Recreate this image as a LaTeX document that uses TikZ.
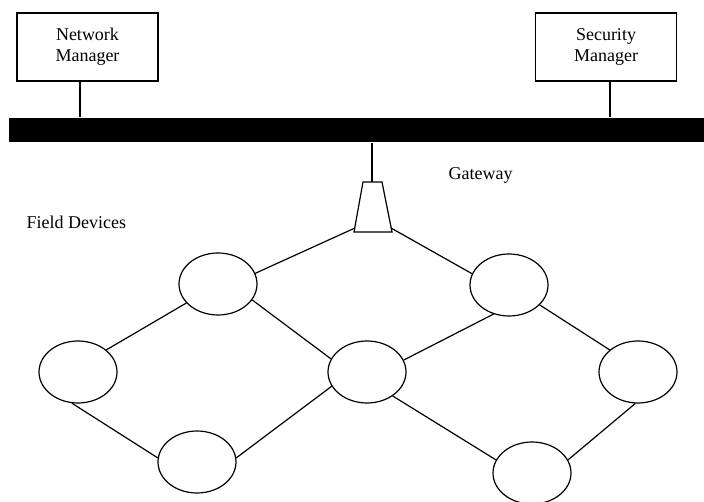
\documentclass[tikz,border=0pt]{standalone}
\usepackage{fontspec}
\setmainfont{Liberation Serif}
\usetikzlibrary{shapes.geometric}
\begin{document}
\begin{tikzpicture}[x=1pt,y=-1pt,
  line width=1.2pt,
  txt/.style={font=\fontsize{18}{21}\selectfont},
  mgr/.style={draw,rectangle,align=center,minimum width=141pt,minimum height=68pt,inner sep=0pt,txt},
  dev/.style={draw,ellipse,minimum width=78pt,minimum height=62pt,inner sep=0pt}]
\useasboundingbox (0,0) rectangle (704,502);
% managers and bus
\node[mgr] (nm) at (87.5,47) {Network\\Manager};
\node[mgr] (sm) at (606,47) {Security\\Manager};
\node[fill=black,rectangle,inner sep=0pt,minimum width=695pt,minimum height=24pt] (bus) at (356.5,130) {};
\draw (nm.south -| 80,0) -- (bus.north -| 80,0);
\draw (sm.south -| 610,0) -- (bus.north -| 610,0);
% gateway
\coordinate (gtl) at (363,182);
\coordinate (gtr) at (382,182);
\coordinate (gbr) at (392,232);
\coordinate (gbl) at (354,232);
\coordinate (gtop) at (372,182);
\coordinate (gwl) at (355,228);
\coordinate (gwr) at (391,228);
\draw (gtl) -- (gtr) -- (gbr) -- (gbl) -- cycle;
\draw (bus.south -| gtop) -- (gtop);
% labels
\node[txt,anchor=base west,inner sep=0pt] (gwlabel) at (448,180) {Gateway};
\node[txt,anchor=base west,inner sep=0pt] (fdlabel) at (26,229) {Field Devices};
% field devices
\node[dev] (e1) at (218,284) {};
\node[dev] (e2) at (509,285) {};
\node[dev] (e3) at (78,372) {};
\node[dev] (e4) at (367,372) {};
\node[dev] (e5) at (638,372) {};
\node[dev] (e6) at (197,462) {};
\node[dev] (e7) at (532,473) {};
% links
\draw (gwl) -- (e1.16);
\draw (gwr) -- (e2.163);
\draw (e1.211) -- (e3.38);
\draw (e1.-25) -- (e4.160);
\draw (e4.18) -- (e2.242);
\draw (e2.-33) -- (e5.142);
\draw (e3.-101) -- (e6.174);
\draw (e6.6) -- (e4.202);
\draw (e4.-43) -- (e7.160);
\draw (e7.20) -- (e5.265);
\end{tikzpicture}
\end{document}
